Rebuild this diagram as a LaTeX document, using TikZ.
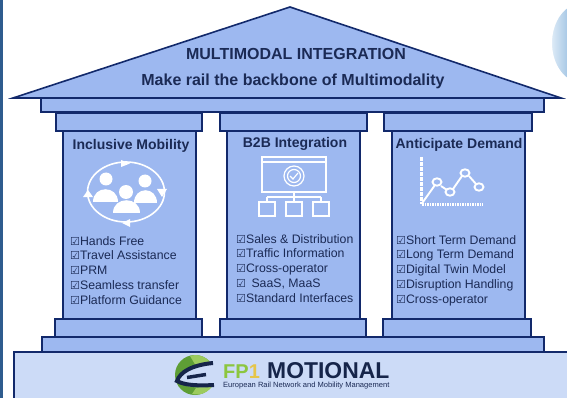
\documentclass[tikz,border=0pt]{standalone}
\usepackage{fontspec}
\setmainfont{Liberation Sans}
\newfontfamily\symfont{DejaVu Sans Bold}
\definecolor{navy}{HTML}{12296B}
\definecolor{fillA}{HTML}{9DB8F0}
\definecolor{fillB}{HTML}{CCDBF7}
\definecolor{txt}{HTML}{1B2A55}
\definecolor{edgeL}{HTML}{2F5C8E}
\definecolor{haloA}{HTML}{DCEAF6}
\definecolor{haloB}{HTML}{A9C9E6}
\definecolor{gDark}{HTML}{5E9E35}
\definecolor{gLight}{HTML}{9CCB5E}
\definecolor{gFP}{HTML}{8CC63F}
\definecolor{yOne}{HTML}{E5C54A}
\definecolor{logoD}{HTML}{16254A}
\tikzset{
  x=1pt,y=-1pt,
  part/.style={draw=navy,line width=1.6pt,fill=fillA,line join=miter},
  ttl/.style={font=\bfseries\fontsize{14}{16}\selectfont,text=txt,inner sep=0pt},
  bigttl/.style={font=\bfseries\fontsize{16}{18}\selectfont,text=txt,inner sep=0pt},
  lst/.style={font=\fontsize{12.3}{14.8}\selectfont,text=txt,align=left,anchor=north west,inner sep=0pt},
  ico/.style={draw=white,line width=1.6pt,fill=none},
  icof/.style={fill=white,draw=none},
}
\newcommand{\cb}{{\symfont\fontsize{11}{11}\selectfont ☑}}
\begin{document}
\begin{tikzpicture}
\useasboundingbox (0,0) rectangle (567,398);
\fill[white] (0,0) rectangle (567,398);
\fill[edgeL] (0,0) rectangle (2.5,398);
\shade[left color=haloA,right color=haloB] (552,3) rectangle (567,83);
\fill[white,even odd rule] (552,0) rectangle (567,90) (582,43) ellipse[x radius=30,y radius=40];
% roof
\draw[part] (13,98) -- (290,7) -- (561,98) -- cycle;
\node[bigttl] (rt) at (296,54) {MULTIMODAL INTEGRATION};
\node[bigttl] (rs) at (293,81.5) {Make rail the backbone of Multimodality};
\draw[part] (41,98) rectangle (544,112);
% capitals
\draw[part] (56,113) rectangle (202,131);
\draw[part] (220,113) rectangle (367,131);
\draw[part] (384,113) rectangle (532,131);
% shafts
\draw[part] (63,131) rectangle (196,319);
\draw[part] (227,131) rectangle (360,319);
\draw[part] (392,131) rectangle (525,319);
% bases
\draw[part] (55,319) rectangle (202,337);
\draw[part] (220,319) rectangle (366,337);
\draw[part] (383,319) rectangle (531,337);
\draw[part] (42,337) rectangle (544,352);
\draw[part,fill=fillB] (14,352) rectangle (570,402);
% column titles
\node[ttl] (t1) at (131,146) {Inclusive Mobility};
\node[ttl] (t2) at (295,144) {B2B Integration};
\node[ttl] (t3) at (459,145) {Anticipate Demand};
% lists
\node[lst] (l1) at (70,236) {\cb Hands Free\\\cb Travel Assistance\\\cb PRM\\\cb Seamless transfer\\\cb Platform Guidance};
\node[lst] (l2) at (236,234) {\cb Sales \& Distribution\\\cb Traffic Information\\\cb Cross-operator\\\cb\, SaaS, MaaS\\\cb Standard Interfaces};
\node[lst] (l3) at (396,235) {\cb Short Term Demand\\\cb Long Term Demand\\\cb Digital Twin Model\\\cb Disruption Handling\\\cb Cross-operator};
% people icon
\draw[ico] (126,192) ellipse[x radius=38.5,y radius=30];
\fill[white] (121,160) -- (130,163.5) -- (121,167) -- cycle;
\fill[white] (122,223) -- (130,219) -- (130,227) -- cycle;
\fill[white] (83,197) -- (93,197) -- (88,190) -- cycle;
\fill[white] (157,189) -- (167,189) -- (162,197) -- cycle;
\fill[icof] (106,179) circle[radius=6.5];
\fill[icof] (145,181) circle[radius=6.5];
\fill[icof] (126,192) circle[radius=7];
\fill[icof] (93,202) .. controls (93,185) and (118,185) .. (118,202) -- cycle;
\fill[icof] (134,203) .. controls (134,186) and (157,186) .. (157,203) -- cycle;
\fill[icof] (113,213) .. controls (113,196) and (140,196) .. (140,213) -- cycle;
% screen icon
\draw[ico] (262,157) rectangle (326,192);
\draw[ico] (262,162) -- (326,162);
\draw[ico,line width=1.2pt] (294,176) circle[radius=10];
\draw[ico,line width=1.2pt] (294,176) circle[radius=6.5];
\draw[ico,line width=1.2pt] (290,176) -- (293,179) -- (298,173);
\draw[ico,line width=1.2pt] (294,192) -- (294,202) (267,197) -- (321,197) (267,197) -- (267,202) (321,197) -- (321,202);
\draw[ico] (259,202) rectangle (275,216);
\draw[ico] (286,202) rectangle (302,216);
\draw[ico] (313,202) rectangle (329,216);
% chart icon
\draw[draw=white,line width=3pt,dash pattern=on 1.6pt off 0.9pt] (421.5,157) -- (421.5,204) -- (483,204);
\draw[ico,line width=1.9pt] (421.5,204) -- (435,185) (441,186) -- (447,190) (453,189) -- (462,176) (469,176) -- (476,184);
\draw[ico,line width=1.9pt] (437,182) ellipse[x radius=4.5,y radius=3.7];
\draw[ico,line width=1.9pt] (450,192) ellipse[x radius=4.5,y radius=3.7];
\draw[ico,line width=1.9pt] (465,173) ellipse[x radius=4.5,y radius=3.7];
\draw[ico,line width=1.9pt] (479,187) ellipse[x radius=4.5,y radius=3.7];
% logo
\fill[gDark] (195,375) circle[radius=20];
\fill[gLight] (190,356) .. controls (200,353) and (209,358) .. (214,368) -- (196,366) -- cycle;
\fill[gLight] (192,394) .. controls (201,396) and (209,392) .. (214,384) -- (196,388) -- cycle;
\fill[fillB] (178,380) .. controls (181,372) and (190,366) .. (216,362) -- (216,386) .. controls (200,388) and (186,388) .. (178,382) -- cycle;
\draw[logoD,line width=4pt] (213,363) .. controls (192,365) and (180,372) .. (177,381) .. controls (184,385) and (196,386) .. (214,385);
\draw[logoD,line width=3.5pt] (187,377.5) -- (206,374.5);
\node[font=\bfseries\fontsize{20}{22}\selectfont,inner sep=0pt,anchor=base west,text=gFP] (fp) at (223,378) {FP\textcolor{yOne}{1}};
\node[font=\bfseries\fontsize{22.9}{24}\selectfont,inner sep=0pt,anchor=base west,text=logoD] (logo) at (267,378) {MOTIONAL};
\node[font=\fontsize{7.55}{8}\selectfont,inner sep=0pt,anchor=west,text=txt] (logos) at (223,385.5) {European Rail Network and Mobility Management};
\end{tikzpicture}
\end{document}
